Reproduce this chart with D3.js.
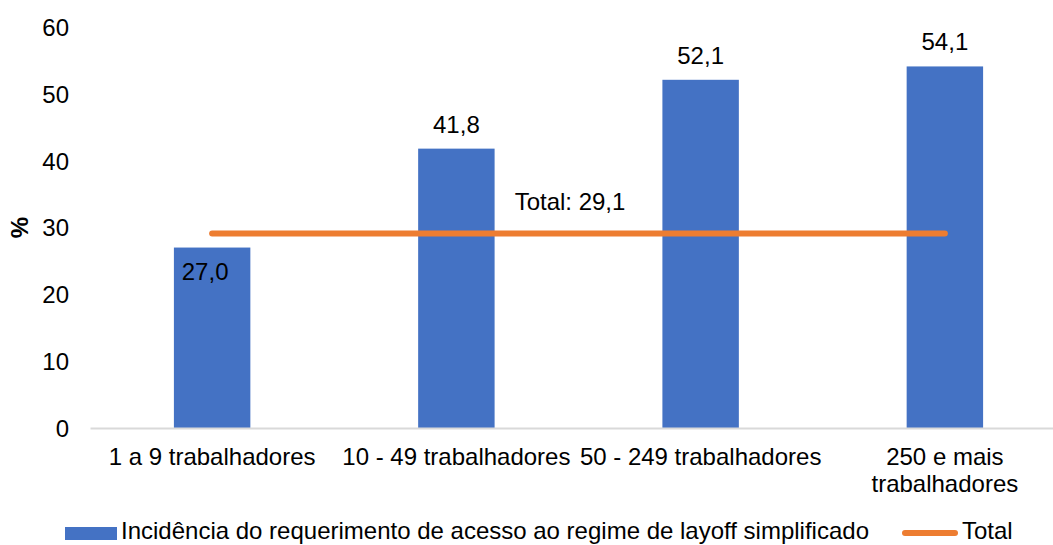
<!DOCTYPE html>
<html>
<head>
<meta charset="utf-8">
<script src="https://cdn.jsdelivr.net/npm/d3@7"></script>
<style>
  html, body { margin: 0; padding: 0; background: #fff; }
  svg { display: block; font-family: "Liberation Sans", Arial, sans-serif; }
</style>
</head>
<body>
<svg id="chart" width="1053" height="545"></svg>
<script>
// Company size classes and incidence of layoff requests (%)
const categories = [["1 a 9 trabalhadores"], ["10 - 49 trabalhadores"], ["50 - 249 trabalhadores"], ["250 e mais", "trabalhadores"]];
const values = [27.0, 41.8, 52.1, 54.1];
const totalValue = 29.1;
const yTicks = [0, 10, 20, 30, 40, 50, 60];
const seriesName = "Incidência do requerimento de acesso ao regime de layoff simplificado";
const totalName = "Total";

const fmt = v => v.toFixed(1).replace(".", ",");
const BLUE = "#4472C4", ORANGE = "#ED7D31", FS = 24;

const svg = d3.select("#chart");
const x = d3.scaleBand().domain(d3.range(categories.length)).range([90, 1067]).paddingInner(0.687).paddingOuter(0.3435);
const y = d3.scaleLinear().domain([0, 60]).range([428, 27]);

// y axis labels
const yAxis = d3.axisLeft(y).tickValues(yTicks).tickSize(0).tickPadding(0).tickFormat(d3.format("d"));
const gy = svg.append("g").attr("transform", "translate(69,0)").call(yAxis);
gy.select(".domain").remove();
gy.selectAll("text").attr("font-size", FS).attr("fill", "#000").attr("font-family", "Liberation Sans, Arial, sans-serif").attr("dy", "0.35em");

svg.append("text").attr("transform", `translate(28,${y(30)}) rotate(-90)`)
  .attr("text-anchor", "middle").attr("font-size", FS).attr("font-weight", "bold").text("%");

// bars
svg.selectAll("rect.bar").data(values).join("rect").attr("class", "bar")
  .attr("x", (d, i) => x(i)).attr("width", x.bandwidth())
  .attr("y", d => y(d)).attr("height", d => y(0) - y(d)).attr("fill", BLUE);

// category axis
const xAxis = d3.axisBottom(x).tickSize(0).tickFormat("");
const gx = svg.append("g").attr("transform", `translate(0,${y(0)})`).call(xAxis);
gx.select(".domain").attr("stroke", "#d9d9d9").attr("stroke-width", 2);
categories.forEach((lines, i) => {
  const t = svg.append("text").attr("text-anchor", "middle").attr("font-size", FS)
    .attr("x", x(i) + x.bandwidth() / 2).attr("y", 465);
  lines.forEach((l, k) => t.append("tspan").attr("x", x(i) + x.bandwidth() / 2).attr("dy", k ? 27 : 0).text(l));
});

// total line
const cx = i => x(i) + x.bandwidth() / 2;
svg.append("line").attr("x1", cx(0)).attr("x2", cx(categories.length - 1))
  .attr("y1", y(totalValue)).attr("y2", y(totalValue))
  .attr("stroke", ORANGE).attr("stroke-width", 6).attr("stroke-linecap", "round");

// value labels
values.forEach((v, i) => {
  const inside = v < totalValue;
  svg.append("text").attr("text-anchor", "middle").attr("font-size", FS)
    .attr("x", cx(i) - (inside ? 7 : 0))
    .attr("y", inside ? y(v) + 32 : y(v) - 16).text(fmt(v));
});
svg.append("text").attr("text-anchor", "middle").attr("font-size", FS)
  .attr("x", 570).attr("y", 210).text("Total: " + fmt(totalValue));

// legend
svg.append("rect").attr("x", 65).attr("y", 527).attr("width", 52).attr("height", 13).attr("fill", BLUE);
svg.append("text").attr("x", 121).attr("y", 539).attr("font-size", FS).text(seriesName);
svg.append("line").attr("x1", 905).attr("x2", 955).attr("y1", 533).attr("y2", 533)
  .attr("stroke", ORANGE).attr("stroke-width", 6).attr("stroke-linecap", "round");
svg.append("text").attr("x", 962).attr("y", 539).attr("font-size", FS).text(totalName);
</script>
</body>
</html>
